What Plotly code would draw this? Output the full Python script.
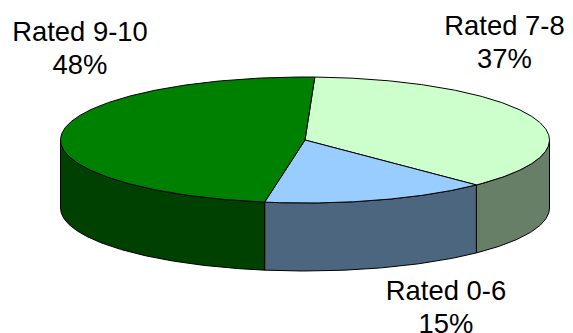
import numpy as np
import plotly.graph_objects as go

# Survey ratings, in clockwise drawing order from the top of the pie
categories = ["Rated 7-8", "Rated 0-6", "Rated 9-10"]
shares = [37, 15, 48]
top_colors = ["#CCFFCC", "#99CCFF", "#008000"]
side_colors = ["#667F66", "#4C667F", "#004000"]

# Pie geometry, in plot units (one unit per screen pixel)
WIDTH, HEIGHT = 573, 333
CX, CY = 305, 140
RX, RY = 244.5, 63
DEPTH = 68
START_DEG = 2.3
LINE_GAP = 33
label_pos = [(504.5, 28), (446, 293), (80, 34.5)]


def rim(a_from, a_to):
    """Points on the top ellipse between two clockwise angles measured from 12 o'clock."""
    steps = max(2, int(abs(a_to - a_from) * 2))
    t = np.radians(np.linspace(a_from, a_to, steps))
    return CX + RX * np.sin(t), CY - RY * np.cos(t)


fig = go.Figure()

edges = START_DEG + np.concatenate(([0], np.cumsum(shares))) * 3.6

# Outer wall: only the part of each slice on the front half of the ellipse shows
for i in range(len(shares)):
    lo, hi = max(edges[i], 90), min(edges[i + 1], 270)
    if hi <= lo:
        continue
    x, y = rim(lo, hi)
    fig.add_trace(go.Scatter(
        x=np.concatenate((x, x[::-1], x[:1])),
        y=np.concatenate((y, y[::-1] + DEPTH, y[:1])),
        mode="lines", fill="toself", fillcolor=side_colors[i],
        line=dict(color="black", width=1), hoverinfo="skip",
    ))

# Top face
for i in range(len(shares)):
    x, y = rim(edges[i], edges[i + 1])
    fig.add_trace(go.Scatter(
        x=np.concatenate(([CX], x, [CX])),
        y=np.concatenate(([CY], y, [CY])),
        mode="lines", fill="toself", fillcolor=top_colors[i],
        line=dict(color="black", width=1), hoverinfo="skip",
    ))

# Category and percentage labels, one trace per line so the leading stays tight
for name, share, (lx, ly) in zip(categories, shares, label_pos):
    for text, offset in ((name, 0), (f"{share}%", LINE_GAP)):
        fig.add_trace(go.Scatter(
            x=[lx], y=[ly + offset], mode="text", text=[text],
            textposition="middle center", cliponaxis=False,
            textfont=dict(family="Liberation Sans, Arial, sans-serif", size=27.4, color="black"),
            hoverinfo="skip",
        ))

fig.update_layout(
    width=WIDTH, height=HEIGHT, showlegend=False,
    margin=dict(l=0, r=0, t=0, b=0),
    paper_bgcolor="white", plot_bgcolor="white",
    xaxis=dict(visible=False, range=[0, WIDTH], fixedrange=True),
    yaxis=dict(visible=False, range=[HEIGHT, 0], fixedrange=True),
)
fig.write_html("out.html", config={"displayModeBar": False})
